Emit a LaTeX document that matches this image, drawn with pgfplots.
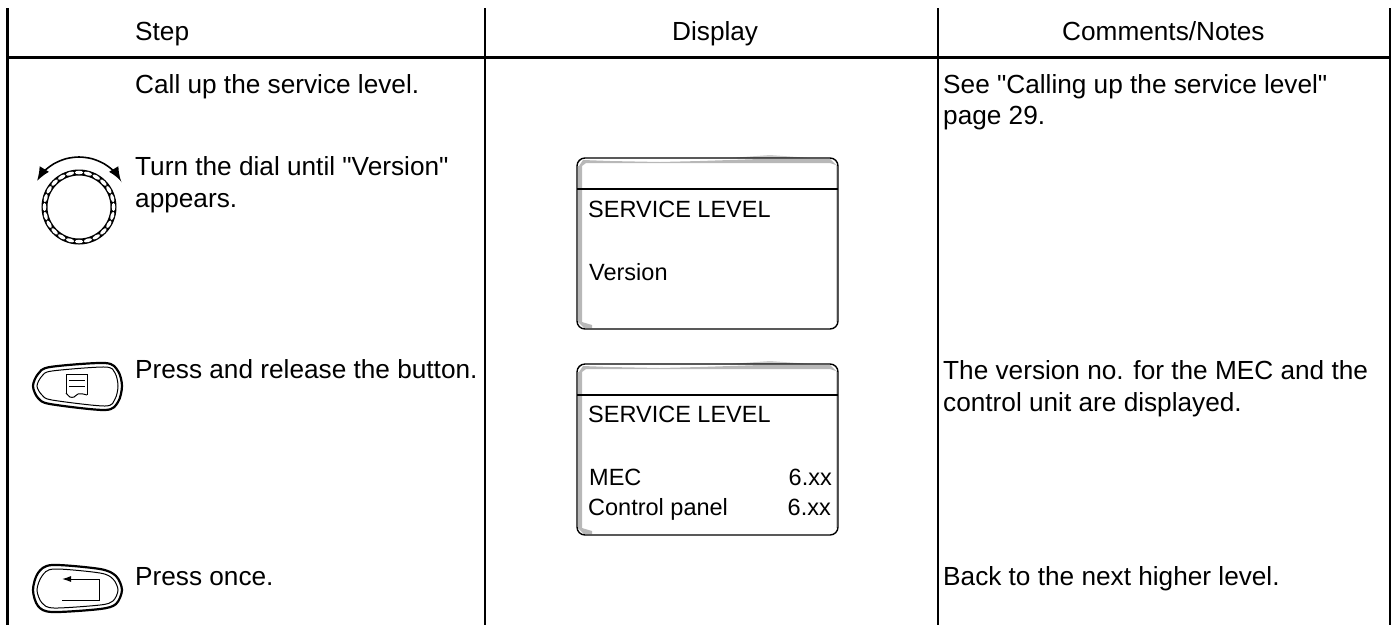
\documentclass[border=0pt]{standalone}
\usepackage{pgfplots}
\pgfplotsset{compat=1.18}
\usepackage{fontspec}
\setmainfont{Liberation Sans}[Ligatures=TeXOff]
\usetikzlibrary{arrows.meta}
\definecolor{sh}{HTML}{B8B8B8}
\newcommand{\mainf}{\fontsize{26.2}{31}\selectfont}
\newcommand{\dispf}{\fontsize{23.5}{28}\selectfont}
\newcommand{\T}[3]{\node[anchor=base west,inner sep=0pt,font=\mainf] at (axis cs:#1,#2) {#3};}
\newcommand{\D}[3]{\node[anchor=base west,inner sep=0pt,font=\dispf] at (axis cs:#1,#2) {#3};}
\newcommand{\DR}[3]{\node[anchor=base east,inner sep=0pt,font=\dispf] at (axis cs:#1,#2) {#3};}
\begin{document}
\begin{tikzpicture}
\path (0,0) rectangle (1396pt,625pt);
\begin{axis}[
  at={(0,0)}, anchor=south west,
  scale only axis, width=1396pt, height=625pt,
  xmin=0, xmax=1396, ymin=0, ymax=625, y dir=reverse,
  hide axis, clip=true,
  every axis plot/.append style={no markers}
]
% table rules
\addplot[black,line width=2.4pt] coordinates {(7.5,8)(7.5,625)};
\addplot[black,line width=2.4pt] coordinates {(485,8)(485,625)};
\addplot[black,line width=2.4pt] coordinates {(938,8)(938,625)};
\addplot[black,line width=2.4pt] coordinates {(1390,8)(1390,625)};
\addplot[black,line width=2.4pt] coordinates {(7.5,57.5)(1390,57.5)};
% headers
\T{135}{40}{Step}
\T{672}{40}{Display}
\T{1062}{40}{Comments/Notes}
% step column
\T{135}{93}{Call up the service level.}
\T{135}{175}{Turn the dial until "Version"}
\T{135}{207}{appears.}
\T{135}{378}{Press and release the button.}
\T{135}{585}{Press once.}
% comments column
\T{943}{93}{See "Calling up the service level"}
\T{943}{124}{page 29.}
\T{943}{379}{The version no. for the MEC and the}
\T{943}{411}{control unit are displayed.}
\T{943}{585}{Back to the next higher level.}
% display 1
\addplot[fill=sh,draw=none] coordinates {(578,166)(582,166)(582,322)(592,325)(592,328)(584,328)(578,322)};
\addplot[fill=sh,draw=none] coordinates {(579,166)(583,160)(610,161)(660,162)(700,161)(760,159)(800,159)(830,159)(836,165)(830,163)(760,163)(680,163)(620,163)(586,163)(582,166)};
\addplot[fill=sh!70,draw=none] coordinates {(730,158)(770,155)(810,158)};
\addplot[fill=sh!70,draw=none] coordinates {(836,165)(838,165)(838,322)(836,322)};
\draw[black,line width=1.4pt,rounded corners=8pt] (axis cs:577,158) rectangle (axis cs:838,329);
\addplot[black,line width=2pt] coordinates {(577,189)(838,189)};
\D{588}{217}{SERVICE LEVEL}
\D{589}{280}{Version}
% display 2
\addplot[fill=sh,draw=none] coordinates {(578,372)(582,372)(582,528)(592,531)(592,534)(584,534)(578,528)};
\addplot[fill=sh,draw=none] coordinates {(579,372)(583,366)(610,367)(660,368)(700,367)(760,365)(800,365)(830,365)(836,371)(830,369)(760,369)(680,369)(620,369)(586,369)(582,372)};
\addplot[fill=sh!70,draw=none] coordinates {(730,364)(770,361)(810,364)};
\addplot[fill=sh!70,draw=none] coordinates {(836,371)(838,371)(838,528)(836,528)};
\draw[black,line width=1.4pt,rounded corners=8pt] (axis cs:577,364) rectangle (axis cs:838,535);
\addplot[black,line width=2pt] coordinates {(577,395)(838,395)};
\D{588}{422}{SERVICE LEVEL}
\D{589}{485}{MEC}
\D{588}{515}{Control panel}
\DR{832}{485}{6.xx}
\DR{831}{515}{6.xx}
% dial
\addplot[black,line width=1.6pt,smooth,{Latex[length=14pt,width=11pt]}-{Latex[length=14pt,width=11pt]}] coordinates {(37,181)(43.6,171.6)(54,163.7)(66,158.7)(79,157)(92,158.7)(104,163.7)(114.4,171.6)(121,181)};
\draw[black,line width=6pt] (axis cs:79,207) circle[radius=34.5pt];
\pgfplotsinvokeforeach{0,15,...,345}{
  \fill[white,shift={(axis cs:79,207)},rotate=#1] (34.5pt,0pt) ellipse[x radius=1.8pt,y radius=4.2pt];
}
% button 1 (display)
\addplot[black,line width=2.2pt,smooth cycle] coordinates {(33,386)(38,374)(50,367)(105,363)(118,371)(122,386)(118,402)(105,410)(50,404)(38,398)};
\addplot[black,line width=1pt,smooth cycle] coordinates {(37,386)(42,376)(52,371)(105,367)(115,373)(118,386)(115,399)(105,406)(52,400)(42,395)};
\addplot[black,line width=1pt] coordinates {(66,393)(66,374)(87,374)(87,395)};
\addplot[black,line width=1pt,smooth] coordinates {(66,393)(70,397)(74,397)(78,394)(83,394)(87,395)};
\addplot[black,line width=1pt] coordinates {(69,380)(85,380)};
\addplot[black,line width=1pt] coordinates {(69,386)(85,386)};
% button 2 (back)
\addplot[black,line width=2.2pt,smooth cycle] coordinates {(33,590)(38,573)(52,565)(100,569)(116,576)(122,590)(116,604)(100,609)(52,612)(38,606)};
\addplot[black,line width=1pt,smooth cycle] coordinates {(37,590)(42,576)(54,569)(100,573)(113,579)(118,590)(113,601)(100,605)(54,608)(42,603)};
\addplot[black,line width=1pt,{Latex[length=9pt,width=6pt]}-] coordinates {(62,579)(99,579)(99,600)(62,600)};
\end{axis}
\end{tikzpicture}
\end{document}
